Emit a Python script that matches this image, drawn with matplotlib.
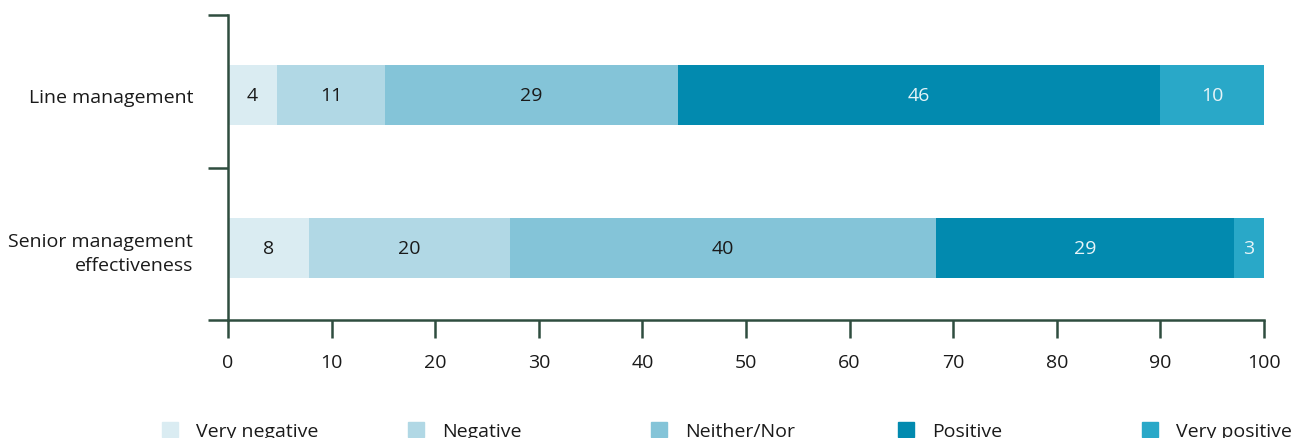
import matplotlib.pyplot as plt
from matplotlib.patches import Patch
from matplotlib.ticker import FixedLocator

plt.rcParams['font.family'] = ['Open Sans', 'DejaVu Sans']

# data (segment widths in %, printed labels)
categories = ['Senior management\neffectiveness', 'Line management']
responses = ['Very negative', 'Negative', 'Neither/Nor', 'Positive', 'Very positive']
colors = ['#daecf2', '#b1d8e5', '#84c4d8', '#028aaf', '#29a8c8']
label_colors = ['#1a1a1a', '#1a1a1a', '#1a1a1a', '#e6f4f8', '#e6f4f8']

senior_widths = [7.8, 19.4, 41.1, 28.8, 2.9]
line_widths = [4.7, 10.5, 28.2, 46.6, 10.0]
senior_labels = ['8', '20', '40', '29', '3']
line_labels = ['4', '11', '29', '46', '10']

widths = [senior_widths, line_widths]
labels = [senior_labels, line_labels]

axis_color = '#2f4d3f'
text_color = '#1a1a1a'
fs = 14

fig = plt.figure(figsize=(13.04, 4.39), dpi=100)
ax = fig.add_axes([228 / 1304, 118 / 439, 1036 / 1304, 305 / 439])

for row, (w, lab) in enumerate(zip(widths, labels)):
    left = 0
    for i in range(len(responses)):
        ax.barh(row, w[i], left=left, height=0.39, color=colors[i], linewidth=0)
        ax.text(left + w[i] / 2, row, lab[i], ha='center', va='center',
                fontsize=fs, color=label_colors[i])
        left += w[i]

ax.set_xlim(0, 100)
ax.set_ylim(-0.47, 1.523)
ax.set_xticks(range(0, 101, 10))
ax.set_yticks([0, 1])
ax.set_yticklabels(categories, fontsize=fs, linespacing=1.45, ha='right')
ax.yaxis.set_minor_locator(FixedLocator([-0.47, 0.523, 1.523]))

for side in ['top', 'right']:
    ax.spines[side].set_visible(False)
for side in ['left', 'bottom']:
    ax.spines[side].set_color(axis_color)
    ax.spines[side].set_linewidth(1.8)

ax.tick_params(axis='x', length=13, width=1.8, color=axis_color, labelsize=fs,
               labelcolor=text_color, pad=11)
ax.tick_params(axis='y', which='major', length=0, pad=25, labelcolor=text_color)
ax.tick_params(axis='y', which='minor', length=14.4, width=1.8, color=axis_color)

# legend: one entry per column, evenly spaced
legend_x = [162, 408, 651, 898, 1142]
for i, name in enumerate(responses):
    fig.legend(handles=[Patch(color=colors[i])], labels=[name], loc='center left',
               bbox_to_anchor=(legend_x[i] / 1304, 7 / 439), frameon=False,
               fontsize=fs, handlelength=0.8, handleheight=0.8, handletextpad=0.95,
               borderpad=0, borderaxespad=0, labelcolor=text_color)

fig.savefig('out.png', dpi=100)
